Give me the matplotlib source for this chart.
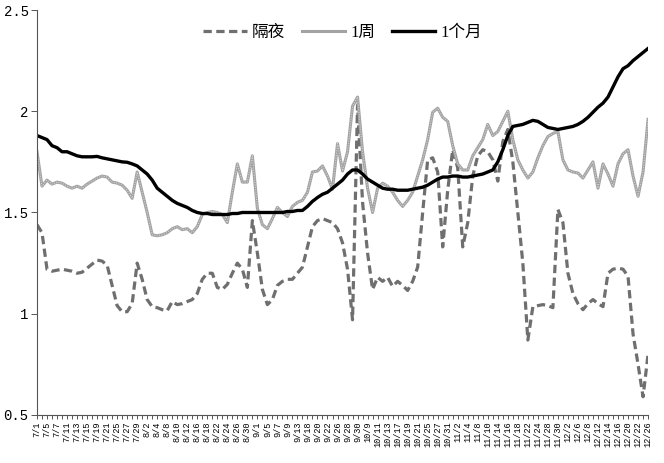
import matplotlib
matplotlib.use('Agg')
import matplotlib.pyplot as plt
from matplotlib.font_manager import FontProperties

# trading days (2016, China calendar)
jul = [1, 4, 5, 6, 7, 8, 11, 12, 13, 14, 15, 18, 19, 20, 21, 22, 25, 26, 27, 28, 29]
aug = [1, 2, 3, 4, 5, 8, 9, 10, 11, 12, 15, 16, 17, 18, 19, 22, 23, 24, 25, 26, 29, 30, 31]
sep = [1, 2, 5, 6, 7, 8, 9, 12, 13, 14, 18, 19, 20, 21, 22, 23, 26, 27, 28, 29, 30]
oct_ = [8, 9, 10, 11, 12, 13, 14, 17, 18, 19, 20, 21, 24, 25, 26, 27, 28, 31]
nov = [1, 2, 3, 4, 7, 8, 9, 10, 11, 14, 15, 16, 17, 18, 21, 22, 23, 24, 25, 28, 29, 30]
dec = [1, 2, 5, 6, 7, 8, 9, 12, 13, 14, 15, 16, 19, 20, 21, 22, 23, 26]

dates = []
for m, days in [(7, jul), (8, aug), (9, sep), (10, oct_), (11, nov), (12, dec)]:
    dates += ['%d/%d' % (m, d) for d in days]

overnight = [1.44, 1.40, 1.22, 1.21, 1.215, 1.22, 1.215, 1.21, 1.20, 1.205,
             1.225, 1.245, 1.265, 1.26, 1.24, 1.14, 1.04, 1.01, 1.01, 1.05,
             1.25, 1.17, 1.07, 1.035, 1.03, 1.02, 1.015, 1.06, 1.045, 1.05,
             1.06, 1.07, 1.10, 1.17, 1.20, 1.20, 1.13, 1.12, 1.145, 1.20,
             1.25, 1.22, 1.13, 1.46, 1.30, 1.12, 1.045, 1.07, 1.14, 1.16,
             1.17, 1.17, 1.20, 1.23, 1.33, 1.43, 1.46, 1.47, 1.46, 1.45,
             1.42, 1.35, 1.22, 0.97, 2.03, 1.55, 1.30, 1.12, 1.18, 1.16,
             1.18, 1.135, 1.16, 1.14, 1.115, 1.16, 1.23, 1.50, 1.76, 1.77,
             1.70, 1.33, 1.61, 1.81, 1.72, 1.33, 1.45, 1.68, 1.78, 1.81,
             1.80, 1.76, 1.655, 1.85, 1.91, 1.75, 1.50, 1.25, 0.87, 1.035,
             1.04, 1.045, 1.04, 1.03, 1.515, 1.45, 1.20, 1.10, 1.05, 1.02,
             1.05, 1.07, 1.05, 1.035, 1.20, 1.22, 1.225, 1.22, 1.185, 0.90,
             0.75, 0.59, 0.80]

week = [1.80, 1.63, 1.66, 1.64, 1.65, 1.645, 1.63, 1.62, 1.63, 1.62,
        1.64, 1.655, 1.67, 1.68, 1.675, 1.65, 1.645, 1.635, 1.61, 1.57,
        1.70, 1.60, 1.50, 1.39, 1.385, 1.39, 1.40, 1.42, 1.43, 1.415,
        1.42, 1.40, 1.43, 1.49, 1.50, 1.505, 1.50, 1.49, 1.45, 1.60,
        1.74, 1.65, 1.65, 1.78, 1.52, 1.44, 1.42, 1.47, 1.525, 1.50,
        1.48, 1.53, 1.55, 1.56, 1.60, 1.70, 1.705, 1.73, 1.68, 1.615,
        1.84, 1.705, 1.80, 2.025, 2.07, 1.80, 1.62, 1.50, 1.62, 1.645,
        1.63, 1.60, 1.56, 1.53, 1.56, 1.60, 1.68, 1.76, 1.86, 1.995,
        2.015, 1.97, 1.95, 1.83, 1.74, 1.71, 1.71, 1.78, 1.82, 1.86,
        1.935, 1.88, 1.90, 1.95, 2.00, 1.86, 1.76, 1.71, 1.67, 1.70,
        1.77, 1.83, 1.875, 1.89, 1.90, 1.76, 1.71, 1.70, 1.695, 1.67,
        1.71, 1.75, 1.62, 1.74, 1.69, 1.63, 1.74, 1.79, 1.81, 1.68,
        1.58, 1.70, 1.96]

month = [1.88, 1.87, 1.86, 1.83, 1.82, 1.80, 1.80, 1.79, 1.78, 1.775,
         1.775, 1.775, 1.777, 1.77, 1.765, 1.76, 1.755, 1.75, 1.748, 1.74,
         1.73, 1.71, 1.69, 1.66, 1.62, 1.60, 1.58, 1.56, 1.545, 1.535,
         1.525, 1.51, 1.50, 1.495, 1.495, 1.49, 1.49, 1.49, 1.49, 1.495,
         1.495, 1.50, 1.50, 1.50, 1.50, 1.50, 1.50, 1.50, 1.50, 1.50,
         1.505, 1.505, 1.51, 1.51, 1.53, 1.555, 1.574, 1.59, 1.60, 1.62,
         1.64, 1.66, 1.69, 1.71, 1.71, 1.69, 1.665, 1.65, 1.635, 1.62,
         1.615, 1.615, 1.61, 1.61, 1.61, 1.615, 1.62, 1.625, 1.635, 1.65,
         1.665, 1.675, 1.675, 1.68, 1.68, 1.675, 1.675, 1.68, 1.685, 1.69,
         1.70, 1.71, 1.75, 1.81, 1.88, 1.925, 1.93, 1.935, 1.945, 1.955,
         1.95, 1.935, 1.92, 1.915, 1.91, 1.915, 1.92, 1.925, 1.935, 1.95,
         1.97, 1.995, 2.02, 2.04, 2.07, 2.12, 2.17, 2.21, 2.225, 2.25,
         2.27, 2.29, 2.31]

labels = ['隔夜', '1周', '1个月']
yticks = [0.5, 1, 1.5, 2, 2.5]

x = list(range(len(dates)))

fig = plt.figure(figsize=(6.64, 4.63), dpi=100)
ax = fig.add_axes([0.0557, 0.1037, 0.9203, 0.8747])

ax.plot(x, overnight, color='#6f6f6f', lw=2.3, linestyle=(0, (2.6, 1.4)), label=labels[0])
ax.plot(x, week, color='#a3a3a3', lw=2.2, label=labels[1])
# light dotted core gives the textured look of the 1周 line
ax.plot(x, week, color='#dcdcdc', lw=0.7, linestyle=(0, (1, 1.5)))
ax.plot(x, month, color='black', lw=2.4, label=labels[2])

ax.set_xlim(0, len(dates) - 1)
ax.set_ylim(0.5, 2.5)
ax.set_yticks(yticks)
ax.set_yticklabels(['%g' % v for v in yticks], family='Liberation Mono', fontsize=10)
ax.set_xticks(x)
ax.set_xticklabels([d if i % 2 == 0 else '' for i, d in enumerate(dates)],
                   rotation=90, family='Liberation Mono', fontsize=6.2)
ax.tick_params(axis='x', length=3, width=0.7, pad=1.5, colors='#555555', labelcolor='black')
ax.tick_params(axis='y', length=4, width=0.7, pad=2, colors='#555555', labelcolor='black')

for s in ['top', 'right']:
    ax.spines[s].set_visible(False)
for s in ['left', 'bottom']:
    ax.spines[s].set_color('#555555')
    ax.spines[s].set_linewidth(0.8)

fp = FontProperties(family=['Liberation Serif', 'Noto Sans CJK SC'], size=12)
ax.legend(loc='center', bbox_to_anchor=(0.5, 0.943), ncol=3, frameon=False, prop=fp,
          handlelength=2.6, handletextpad=0.3, columnspacing=1.0)

plt.savefig('out.png', dpi=100)
plt.close(fig)
